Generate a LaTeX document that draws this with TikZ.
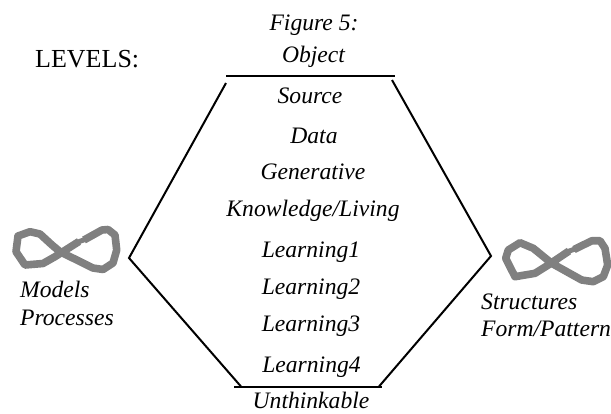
\documentclass[tikz,border=0pt]{standalone}
\usepackage{fontspec}
\setmainfont{Liberation Serif}
\tikzset{
  lev/.style={font=\fontsize{23.6}{26}\selectfont\itshape, inner sep=0pt, anchor=base},
  side/.style={font=\fontsize{23.6}{26}\selectfont\itshape, inner sep=0pt, anchor=base west},
  hexline/.style={draw=black, line width=2pt},
  loopline/.style={draw=black!50, line width=7.6pt, line join=round},
  bridge/.style={draw=black!50, line width=5pt}
}
\begin{document}
\begin{tikzpicture}[x=1pt,y=-1pt]
\useasboundingbox (0,0) rectangle (611,413);
\node[lev] (fig) at (314,30) {Figure 5:};
\node[lev] (obj) at (313.5,62) {Object};
\node[font=\fontsize{26}{28}\selectfont, inner sep=0pt, anchor=base west] (levels) at (35,67) {LEVELS:};
\node[lev] (l1) at (310,103) {Source};
\node[lev] (l2) at (314,143) {Data};
\node[lev] (l3) at (313,179) {Generative};
\node[lev] (l4) at (313,216) {Knowledge/Living};
\node[lev] (l5) at (311,257) {Learning1};
\node[lev] (l6) at (311,294) {Learning2};
\node[lev] (l7) at (311,331) {Learning3};
\node[lev] (l8) at (311.5,372) {Learning4};
\node[lev] (l9) at (311,408) {Unthinkable};
\node[side] (ml) at (20,297) {Models};
\node[side] (mp) at (20,325) {Processes};
\node[side] (sl) at (481,309) {Structures};
\node[side] (sp) at (481,336) {Form/Pattern};
\coordinate (tl) at (226,76);
\coordinate (tr) at (395,76);
\coordinate (ul) at (226,83);
\coordinate (ur) at (392,80);
\coordinate (w) at (129,258);
\coordinate (e) at (491,256);
\coordinate (bl) at (234,386.5);
\coordinate (br) at (382,386.5);
\coordinate (dl) at (241,386.5);
\coordinate (dr) at (379,386.5);
\draw[hexline] (tl) -- (tr);
\draw[hexline] (bl) -- (br);
\draw[hexline] (ul) -- (w) -- (dl);
\draw[hexline] (ur) -- (e) -- (dr);
% left loop
\draw[loopline] (84,240) -- (102,230) -- (108,229.5) -- (115,235) -- (116.7,250) -- (113,263) -- (103,269.5) -- (93,268) -- (60,251.7) -- (52,245) -- (40,234) -- (30,231.7) -- (18,236) -- (16,251.7) -- (25,265) -- (43,263.5) -- (55,256.7) -- (79,241.5);
\draw[bridge] (85,239.5) -- (78,242);
% right loop
\draw[loopline] (574,249.5) -- (592,240.7) -- (600,240.7) -- (605,248.3) -- (607.7,265) -- (603.3,276.7) -- (593.3,281.7) -- (581.7,280) -- (551.7,263.3) -- (533.3,248.3) -- (520,242.7) -- (508.3,250) -- (505.7,258.3) -- (515,276.7) -- (535,273.3) -- (548.3,265) -- (569,251);
\draw[bridge] (575,249) -- (568,251.5);
\end{tikzpicture}
\end{document}
